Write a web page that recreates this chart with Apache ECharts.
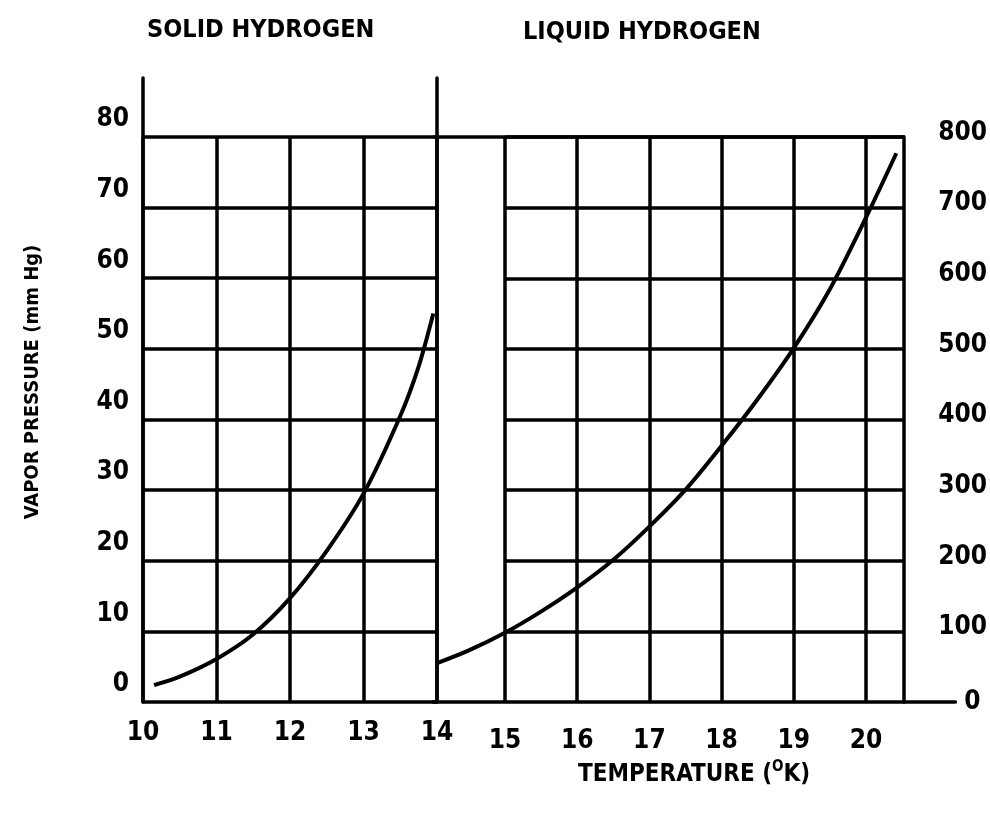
<!DOCTYPE html>
<html>
<head>
<meta charset="utf-8">
<title>Vapor pressure of hydrogen</title>
<script src="https://cdn.jsdelivr.net/npm/echarts@6/dist/echarts.min.js"></script>
<style>
  html, body { margin: 0; background: #fff; }
  #chart { width: 990px; height: 830px; }
</style>
</head>
<body>
<div id="chart"></div>
<script>
// solid branch (left panel, mm Hg 0-80)
const solidTemp = [10.15, 10.5, 11.0, 11.5, 12.0, 12.5, 13.0, 13.5, 13.75, 13.95];
const solidPressure = [2.4, 3.6, 6.1, 9.6, 14.7, 21.4, 29.5, 40.5, 47.5, 55];

// liquid branch (right panel, mm Hg 0-800)
const liquidTemp = [14.06, 14.5, 15.0, 15.5, 16.0, 16.5, 17.0, 17.5, 18.0, 18.5, 19.0, 19.5, 20.0, 20.43];
const liquidPressure = [55, 73, 98, 128, 162, 201, 248, 300, 362, 428, 500, 583, 684, 777];

// tick labels
const solidTicks = [10, 11, 12, 13, 14];
const liquidTicks = [15, 16, 17, 18, 19, 20];
const leftTicks = [0, 10, 20, 30, 40, 50, 60, 70, 80];
const rightTicks = [0, 100, 200, 300, 400, 500, 600, 700, 800];

const FONT = "'Liberation Sans Narrow', 'DejaVu Sans Condensed', sans-serif";
const INK = "#000";
const GRID_W = 3.5;

// layout (px)
const TOP = 137, BASE = 702, FRAME_TOP = 78;
const LEFT_X = 143, LEFT_W = 294;
const K = 72.2, X15 = 505, EDGE_T = 20.54, B_MAX = 21.25;
const pxPerUnit = (BASE - TOP) / 80;
const frameMax = 80 + (TOP - FRAME_TOP) / pxPerUnit;
const bLeft = X15 - K, bWidth = (B_MAX - 14) * K;
const edgeX = X15 + (EDGE_T - 15) * K;

const numLabel = { fontFamily: FONT, fontWeight: "bold", fontSize: 26, color: INK };
const line = { lineStyle: { color: INK, width: GRID_W } };
const off = { show: false };

const chart = echarts.init(document.getElementById("chart"));

chart.setOption({
  animation: false,
  backgroundColor: "#fff",
  grid: [
    { left: LEFT_X, top: FRAME_TOP, width: LEFT_W, height: BASE - FRAME_TOP },
    { left: LEFT_X, top: TOP, width: LEFT_W, height: BASE - TOP },
    { left: bLeft, top: TOP, width: bWidth, height: BASE - TOP },
    { left: X15, top: TOP, width: edgeX - X15, height: BASE - TOP }
  ],
  xAxis: [
    {
      gridIndex: 0, type: "value", min: 10, max: 14, interval: 1,
      axisLine: { show: true, ...line }, axisTick: off, splitLine: off,
      axisLabel: {
        ...numLabel, margin: 18,
        formatter: v => (solidTicks.includes(v) ? String(v) : "")
      }
    },
    {
      gridIndex: 1, type: "value", min: 10, max: 14, interval: 1,
      axisLine: off, axisTick: off, axisLabel: off,
      splitLine: { show: true, ...line }
    },
    {
      gridIndex: 2, type: "value", min: 14, max: B_MAX,
      axisLine: { show: true, onZero: false, ...line }, axisTick: off, axisLabel: off, splitLine: off
    },
    {
      gridIndex: 3, type: "value", min: 15, max: EDGE_T, interval: 1,
      axisLine: off, axisTick: off,
      splitLine: { show: true, showMaxLine: false, ...line },
      axisLabel: {
        ...numLabel, margin: 26, showMaxLabel: false,
        formatter: v => (liquidTicks.includes(v) ? String(v) : "")
      }
    }
  ],
  yAxis: [
    {
      gridIndex: 0, type: "value", min: 0, max: frameMax, interval: 10,
      axisLine: { show: true, ...line }, axisTick: off,
      splitLine: { show: true, showMinLine: false, showMaxLine: false, ...line },
      axisLabel: {
        // labels sit above their grid line in the original
        ...numLabel, margin: 14, showMaxLabel: false, verticalAlign: "bottom",
        formatter: v => (leftTicks.includes(v) ? "{n|" + v + "}" : ""),
        rich: { n: { ...numLabel, lineHeight: 26, padding: [0, 0, 9, 0] } }
      }
    },
    {
      gridIndex: 0, type: "value", position: "right", min: 0, max: frameMax,
      axisLine: { show: true, ...line }, axisTick: off, axisLabel: off, splitLine: off
    },
    {
      gridIndex: 1, type: "value", min: 0, max: 80,
      axisLine: off, axisTick: off, axisLabel: off, splitLine: off
    },
    {
      gridIndex: 2, type: "value", position: "right", offset: -(bLeft + bWidth - edgeX),
      min: 0, max: 800, interval: 100,
      axisLine: { show: true, ...line }, axisTick: off, splitLine: off,
      axisLabel: {
        ...numLabel, margin: 34, lineHeight: 8,
        formatter: v => (rightTicks.includes(v) ? (v === 0 ? "{z|0}" : v + "\n") : ""),
        rich: { z: { ...numLabel, padding: [0, 0, 0, 26] } }
      }
    },
    {
      gridIndex: 3, type: "value", min: 0, max: 800, interval: 100,
      axisLine: off, axisTick: off, axisLabel: off,
      splitLine: { show: true, showMinLine: false, ...line }
    }
  ],
  series: [
    {
      name: "solid",
      type: "line",
      xAxisIndex: 0,
      yAxisIndex: 0,
      smooth: 0.3,
      symbol: "none",
      lineStyle: { color: INK, width: 4 },
      data: solidTemp.map((t, i) => [t, solidPressure[i]])
    },
    {
      name: "liquid",
      type: "line",
      xAxisIndex: 2,
      yAxisIndex: 3,
      smooth: 0.3,
      symbol: "none",
      lineStyle: { color: INK, width: 4 },
      data: liquidTemp.map((t, i) => [t, liquidPressure[i]]),
      // top border of the liquid panel also runs over the blank strip
      markLine: {
        silent: true,
        symbol: "none",
        label: off,
        lineStyle: { color: INK, width: GRID_W, type: "solid" },
        data: [[{ coord: [14, 800] }, { coord: [EDGE_T, 800] }]]
      }
    }
  ],
  graphic: [
    {
      type: "text", left: 147, top: 18,
      style: { text: "SOLID HYDROGEN", font: "bold 25px " + FONT, fill: INK }
    },
    {
      type: "text", left: 523, top: 20,
      style: { text: "LIQUID HYDROGEN", font: "bold 25px " + FONT, fill: INK }
    },
    {
      type: "text", x: 33, y: 382, rotation: Math.PI / 2,
      style: {
        text: "VAPOR PRESSURE (mm Hg)", font: "bold 20px " + FONT, fill: INK,
        align: "center", verticalAlign: "middle"
      }
    },
    {
      type: "text", left: 578, top: 760,
      style: {
        text: "TEMPERATURE ({sup|O}K)",
        font: "bold 24px " + FONT, fill: INK,
        rich: {
          sup: { font: "bold 15px " + FONT, fill: INK, padding: [0, 0, 14, 0] }
        }
      }
    }
  ]
});
</script>
</body>
</html>
